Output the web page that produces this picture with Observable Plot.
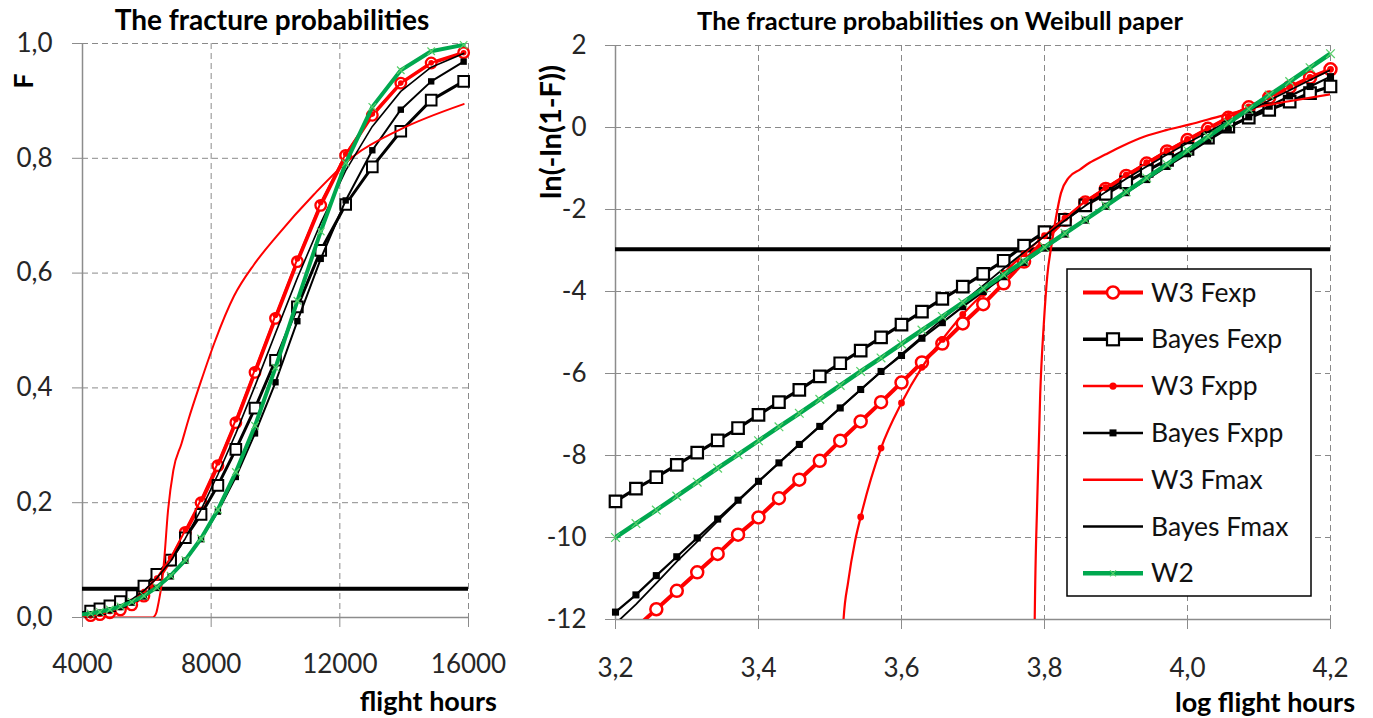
<!DOCTYPE html>
<html><head><meta charset="utf-8">
<script src="https://cdn.jsdelivr.net/npm/d3@7"></script>
<script src="https://cdn.jsdelivr.net/npm/@observablehq/plot@0.6"></script>
<style>
html,body{margin:0;padding:0;background:#fff;}
#wrap{position:relative;width:1373px;height:718px;overflow:hidden;font-family:Lato,sans-serif;background:#fff;}
#left{position:absolute;left:0;top:0;width:520px;}
#right{position:absolute;left:520px;top:0;width:853px;}
#overlay{position:absolute;left:0;top:0;}
</style></head><body>
<div id="wrap"><div id="left"></div><div id="right"></div><svg id="overlay" width="1373" height="718"></svg></div>
<script>
// ---------- texts ----------
const titleLeft = "The fracture probabilities";
const titleRight = "The fracture probabilities on Weibull paper";
const yLabelLeft = "F";
const yLabelRight = "ln(-ln(1-F))";
const xLabelLeft = "flight hours";
const xLabelRight = "log flight hours";
const legendLabels = ["W3 Fexp", "Bayes Fexp", "W3 Fxpp", "Bayes Fxpp", "W3 Fmax", "Bayes Fmax", "W2"];

// ---------- ticks ----------
const xTicksLeft = [4000, 8000, 12000, 16000];
const yTicksLeft = [0, 0.2, 0.4, 0.6, 0.8, 1.0];
const xTicksRight = [3.2, 3.4, 3.6, 3.8, 4.0, 4.2];
const yTicksRight = [-12, -10, -8, -6, -4, -2, 0, 2];
const thresholdF = [0.05];
const thresholdW = [-2.97];

// ---------- right chart (Weibull paper): log flight hours grid ----------
const logHours = [3.2000, 3.2286, 3.2571, 3.2857, 3.3143, 3.3429, 3.3714, 3.4000, 3.4286, 3.4571,
  3.4857, 3.5143, 3.5429, 3.5714, 3.6000, 3.6286, 3.6571, 3.6857, 3.7143, 3.7429,
  3.7714, 3.8000, 3.8286, 3.8571, 3.8857, 3.9143, 3.9429, 3.9714, 4.0000, 4.0286,
  4.0571, 4.0857, 4.1143, 4.1429, 4.1714, 4.2000];
const w3FexpW = [-12.65, -12.2, -11.75, -11.30, -10.85, -10.40, -9.93, -9.51, -9.04, -8.59,
  -8.13, -7.64, -7.17, -6.70, -6.22, -5.73, -5.27, -4.78, -4.31, -3.80,
  -3.27, -2.74, -2.25, -1.83, -1.50, -1.18, -0.88, -0.585, -0.306, -0.033,
  0.236, 0.491, 0.732, 0.983, 1.218, 1.42];
const bayesFexpW = [-9.12, -8.81, -8.53, -8.23, -7.93, -7.63, -7.33, -7.01, -6.70, -6.40,
  -6.07, -5.75, -5.44, -5.12, -4.81, -4.49, -4.18, -3.88, -3.57, -3.25,
  -2.88, -2.55, -2.25, -1.90, -1.62, -1.34, -1.06, -0.79, -0.52, -0.25,
  0.02, 0.24, 0.43, 0.63, 0.84, 1.00];
const w3FxppLeadLog = [3.5165, 3.5186, 3.5255, 3.5349];
const w3FxppLeadW = [-14.0, -12.09, -11.07, -10.10];
const w3FxppW = [-9.50, -7.82, -6.72, -5.85, -5.17, -4.56, -4.05, -3.55, -3.08, -2.64,
  -2.21, -1.80, -1.47, -1.16, -0.86, -0.565, -0.29, -0.02, 0.25, 0.50,
  0.74, 0.99, 1.22, 1.42]; // from logHours[12]
const bayesFxppW = [-11.82, -11.40, -10.93, -10.47, -10.01, -9.55, -9.09, -8.63, -8.18, -7.73,
  -7.29, -6.84, -6.39, -5.95, -5.56, -5.14, -4.76, -4.37, -4.00, -3.64,
  -3.29, -2.94, -2.60, -2.26, -1.92, -1.59, -1.27, -0.95, -0.64, -0.32,
  -0.02, 0.26, 0.52, 0.77, 1.00, 1.24];
const w3FmaxLog = [3.785, 3.786, 3.790, 3.794, 3.799, 3.804, 3.810, 3.816, 3.823, 3.834,
  3.850, 3.863, 3.885, 3.909, 3.940, 3.970, 4.002, 4.049, 4.095, 4.142, 4.200];
const w3FmaxW = [-15.0, -12.5, -9.0, -6.5, -4.8, -3.6, -2.85, -2.2, -1.6, -1.22,
  -1.02, -0.86, -0.66, -0.45, -0.22, -0.065, 0.07, 0.29, 0.49, 0.64, 0.81];
const bayesFmaxW = [-12.10, -11.63, -11.11, -10.59, -10.10, -9.60, -9.12, -8.64, -8.18, -7.73,
  -7.28, -6.84, -6.40, -5.96, -5.53, -5.10, -4.68, -4.26, -3.85, -3.44,
  -3.04, -2.65, -2.27, -1.91, -1.57, -1.25, -0.95, -0.66, -0.38, -0.11,
  0.15, 0.41, 0.66, 0.91, 1.16, 1.40];
const w2W = [-10.00, -9.66, -9.33, -8.99, -8.65, -8.31, -7.98, -7.64, -7.30, -6.97,
  -6.63, -6.29, -5.95, -5.62, -5.28, -4.94, -4.61, -4.27, -3.93, -3.59,
  -3.26, -2.92, -2.58, -2.25, -1.91, -1.57, -1.23, -0.90, -0.56, -0.22,
  0.11, 0.45, 0.79, 1.12, 1.46, 1.80];

// ---------- left chart: flight hours ----------
const hoursLeft = [3981, 4252, 4541, 4850, 5179, 5532, 5908, 6310, 6739, 7197, 7686,
  8209, 8767, 9363, 10000, 10680, 11406, 12182, 13010, 13895, 14840, 15849];
const w3FexpF = [0.0020, 0.0032, 0.0051, 0.0084, 0.0133, 0.0221, 0.0373, 0.0626, 0.1000, 0.1482, 0.2000,
  0.2645, 0.3395, 0.4271, 0.5212, 0.6200, 0.7180, 0.8050, 0.8750, 0.9310, 0.9660, 0.9840];
const bayesFexpF = [0.0081, 0.0112, 0.0152, 0.0204, 0.0278, 0.0380, 0.0546, 0.0751, 0.1000, 0.1389, 0.1796,
  0.2303, 0.2928, 0.3648, 0.4482, 0.5411, 0.6395, 0.7195, 0.7850, 0.8471, 0.9014, 0.9340];
const w3FxppF = [0.0012, 0.0029, 0.0057, 0.0104, 0.0173, 0.0283, 0.0450, 0.0689, 0.1038, 0.1525, 0.2056,
  0.2695, 0.3448, 0.4325, 0.5267, 0.6247, 0.7230, 0.8077, 0.8770, 0.9310, 0.9663, 0.9840];
const bayesFxppF = [0.0038, 0.0058, 0.0085, 0.0126, 0.0181, 0.0259, 0.0366, 0.0515, 0.0716, 0.0991, 0.1364,
  0.1845, 0.2448, 0.3207, 0.4098, 0.5162, 0.6248, 0.7266, 0.8140, 0.8847, 0.9340, 0.9684];
const w3FmaxHours = [4000, 6109, 6166, 6223, 6295, 6368, 6457, 6546, 6653, 6823,
  7079, 7295, 7674, 8110, 8710, 9333, 10046, 11194, 12445, 13868, 15849];
const w3FmaxF = [0, 0, 0.0001, 0.0015, 0.0082, 0.0270, 0.0562, 0.1049, 0.1827, 0.2561,
  0.3032, 0.3450, 0.4100, 0.4800, 0.5600, 0.6150, 0.6650, 0.7370, 0.8045, 0.8500, 0.8944];
const bayesFmaxF = [0.0040, 0.0061, 0.0092, 0.0140, 0.0211, 0.0316, 0.0467, 0.0683, 0.0981, 0.1377, 0.1878,
  0.2491, 0.3207, 0.4036, 0.4954, 0.5917, 0.6871, 0.7784, 0.8555, 0.9166, 0.9588, 0.9827];
const w2F = [0.0051, 0.0071, 0.0099, 0.0139, 0.0194, 0.0272, 0.0377, 0.0525, 0.0730, 0.1000, 0.1377,
  0.1878, 0.2535, 0.3341, 0.4352, 0.5518, 0.6725, 0.7916, 0.8896, 0.9534, 0.9865, 0.9976];

// ---------- helpers / styles ----------
const pts = (xs, ys) => xs.map((x, i) => ({x, y: ys[i]}));
const RED = "#ff0000", BLACK = "#000000", GREEN = "#00a84f", XGREEN = "#57cf6a";
const GRID = "#8a8a8a", AXIS = "#8c8c8c", TXT = "#262626";
const fmtComma = d => d.toFixed(1).replace(".", ",");
const fmtInt = d => (d < 0 ? "-" + Math.abs(d) : String(d));

function series(data, st, keep) {
  const m = [Plot.line(data, {x: "x", y: "y", stroke: st.color, strokeWidth: st.width,
    curve: st.curve || "linear", strokeLinejoin: "round", clip: true})];
  if (st.symbol) {
    const md = (st.markers || data).filter(keep);
    m.push(Plot.dot(md, {x: "x", y: "y", symbol: st.symbol, r: st.r,
      fill: st.fill || "none", stroke: st.mstroke || "none", strokeWidth: st.mwidth || 1}));
  }
  return m;
}
function frame(gx, gy, x0, y0) {
  return [
    Plot.ruleX(gx, {stroke: GRID, strokeDasharray: "6,4", strokeWidth: 1}),
    Plot.ruleY(gy, {stroke: GRID, strokeDasharray: "6,4", strokeWidth: 1}),
    Plot.ruleX([x0], {stroke: AXIS, strokeWidth: 1.5}),
    Plot.ruleY([y0], {stroke: AXIS, strokeWidth: 1.5})
  ];
}

// ---------- left chart ----------
const keepL = d => d.x >= 4000 && d.x <= 16000;
const leftPlot = Plot.plot({
  width: 520, height: 718, marginLeft: 82, marginRight: 52, marginTop: 43, marginBottom: 101,
  x: {domain: [xTicksLeft[0], xTicksLeft[xTicksLeft.length - 1]]},
  y: {domain: [yTicksLeft[0], yTicksLeft[yTicksLeft.length - 1]]},
  style: {fontFamily: "Lato", fontSize: "26px", background: "transparent", overflow: "visible"},
  marks: [
    ...frame(xTicksLeft.slice(1), yTicksLeft.slice(1), xTicksLeft[0], yTicksLeft[0]),
    Plot.axisX({ticks: xTicksLeft, tickSize: 10, tickPadding: 27, tickFormat: d => String(d),
      stroke: AXIS, fill: TXT, label: null}),
    Plot.axisY({ticks: yTicksLeft, tickSize: 10, tickPadding: 20, tickFormat: fmtComma,
      stroke: AXIS, fill: TXT, label: null}),
    Plot.ruleY(thresholdF, {stroke: BLACK, strokeWidth: 4}),
    ...series(pts(hoursLeft, w3FexpF), {color: RED, width: 3.5, symbol: "circle", r: 5.3, fill: "#fff", mstroke: RED, mwidth: 2.3}, keepL),
    ...series(pts(hoursLeft, bayesFexpF), {color: BLACK, width: 3, symbol: "square", r: 6, fill: "#fff", mstroke: BLACK, mwidth: 2}, keepL),
    ...series(pts(hoursLeft, w3FxppF), {color: RED, width: 2, symbol: "circle", r: 2.8, fill: RED}, keepL),
    ...series(pts(hoursLeft, bayesFxppF), {color: BLACK, width: 2, symbol: "square", r: 3.6, fill: BLACK}, keepL),
    ...series(pts(w3FmaxHours, w3FmaxF), {color: RED, width: 2, curve: "monotone-x"}, keepL),
    ...series(pts(hoursLeft, bayesFmaxF), {color: BLACK, width: 1.6}, keepL),
    ...series(pts(hoursLeft, w2F), {color: GREEN, width: 4, symbol: "times", r: 3.5, mstroke: XGREEN, mwidth: 1.2}, keepL)
  ]
});
document.getElementById("left").appendChild(leftPlot);

// ---------- right chart ----------
const keepR = d => d.y >= -12 && d.y <= 2;
const w3FxppGrid = pts(logHours.slice(12), w3FxppW);
const rightPlot = Plot.plot({
  width: 853, height: 718, marginLeft: 95, marginRight: 43, marginTop: 45, marginBottom: 99,
  x: {domain: [xTicksRight[0], xTicksRight[xTicksRight.length - 1]]},
  y: {domain: [yTicksRight[0], yTicksRight[yTicksRight.length - 1]]},
  style: {fontFamily: "Lato", fontSize: "26px", background: "transparent", overflow: "visible"},
  marks: [
    ...frame(xTicksRight.slice(1), yTicksRight.slice(1), xTicksRight[0], yTicksRight[0]),
    Plot.axisX({ticks: xTicksRight, tickSize: 10, tickPadding: 29, tickFormat: fmtComma,
      stroke: AXIS, fill: TXT, label: null}),
    Plot.axisY({ticks: yTicksRight, tickSize: 10, tickPadding: 19, tickFormat: fmtInt,
      stroke: AXIS, fill: TXT, label: null}),
    Plot.ruleY(thresholdW, {stroke: BLACK, strokeWidth: 4}),
    ...series(pts(logHours, w3FexpW), {color: RED, width: 4, symbol: "circle", r: 6, fill: "#fff", mstroke: RED, mwidth: 2.5}, keepR),
    ...series(pts(logHours, bayesFexpW), {color: BLACK, width: 3.2, symbol: "square", r: 6.5, fill: "#fff", mstroke: BLACK, mwidth: 2.2}, keepR),
    ...series(pts(w3FxppLeadLog, w3FxppLeadW).concat(w3FxppGrid), {color: RED, width: 2.2, curve: "monotone-x", symbol: "circle", r: 3.4, fill: RED, markers: w3FxppGrid}, keepR),
    ...series(pts(logHours, bayesFxppW), {color: BLACK, width: 2.2, symbol: "square", r: 4, fill: BLACK}, keepR),
    ...series(pts(w3FmaxLog, w3FmaxW), {color: RED, width: 2.2, curve: "monotone-x"}, keepR),
    ...series(pts(logHours, bayesFmaxW), {color: BLACK, width: 1.8}, keepR),
    ...series(pts(logHours, w2W), {color: GREEN, width: 4.5, symbol: "times", r: 4, mstroke: XGREEN, mwidth: 1.2}, keepR)
  ]
});
document.getElementById("right").appendChild(rightPlot);

// ---------- titles, axis labels, legend ----------
const ov = d3.select("#overlay").style("font-family", "Lato, sans-serif");
function label(x, y, txt, size, anchor, rotate) {
  const t = ov.append("text").attr("text-anchor", anchor).attr("font-weight", 700)
    .attr("font-size", size).attr("fill", "#000").text(txt);
  if (rotate) t.attr("transform", `translate(${x},${y}) rotate(-90)`);
  else t.attr("x", x).attr("y", y);
}
label(272, 30, titleLeft, 28, "middle");
label(940, 30, titleRight, 25.5, "middle");
label(33, 81, yLabelLeft, 27, "middle", true);
label(561, 132, yLabelRight, 29, "middle", true);
label(497, 711, xLabelLeft, 27, "end");
label(1355, 712, xLabelRight, 27, "end");

const legendStyles = [
  {color: RED, width: 4, marker: "circleOpen"},
  {color: BLACK, width: 3.5, marker: "squareOpen"},
  {color: RED, width: 2.5, marker: "dot"},
  {color: BLACK, width: 2.5, marker: "squareFilled"},
  {color: RED, width: 2.5},
  {color: BLACK, width: 2.5},
  {color: GREEN, width: 4.5, marker: "times"}
];
const lg = ov.append("g");
lg.append("rect").attr("x", 1067).attr("y", 269).attr("width", 244).attr("height", 327)
  .attr("fill", "#fff").attr("stroke", "#000").attr("stroke-width", 1.5);
legendLabels.forEach((name, i) => {
  const st = legendStyles[i];
  const cy = 292.5 + i * 46.8;
  lg.append("line").attr("x1", 1083).attr("x2", 1143).attr("y1", cy).attr("y2", cy)
    .attr("stroke", st.color).attr("stroke-width", st.width);
  if (st.marker === "circleOpen")
    lg.append("circle").attr("cx", 1113).attr("cy", cy).attr("r", 6).attr("fill", "#fff").attr("stroke", st.color).attr("stroke-width", 2.5);
  if (st.marker === "squareOpen")
    lg.append("rect").attr("x", 1107).attr("y", cy - 6).attr("width", 12).attr("height", 12).attr("fill", "#fff").attr("stroke", st.color).attr("stroke-width", 2.2);
  if (st.marker === "dot")
    lg.append("circle").attr("cx", 1113).attr("cy", cy).attr("r", 3.6).attr("fill", st.color);
  if (st.marker === "squareFilled")
    lg.append("rect").attr("x", 1109.5).attr("y", cy - 3.5).attr("width", 7).attr("height", 7).attr("fill", st.color);
  if (st.marker === "times")
    lg.append("path").attr("d", `M${1110},${cy - 3}L${1116},${cy + 3}M${1110},${cy + 3}L${1116},${cy - 3}`)
      .attr("stroke", XGREEN).attr("stroke-width", 1.2);
  lg.append("text").attr("x", 1151).attr("y", cy + 9).attr("font-size", 26.5).attr("fill", "#111").text(name);
});
</script></body></html>
